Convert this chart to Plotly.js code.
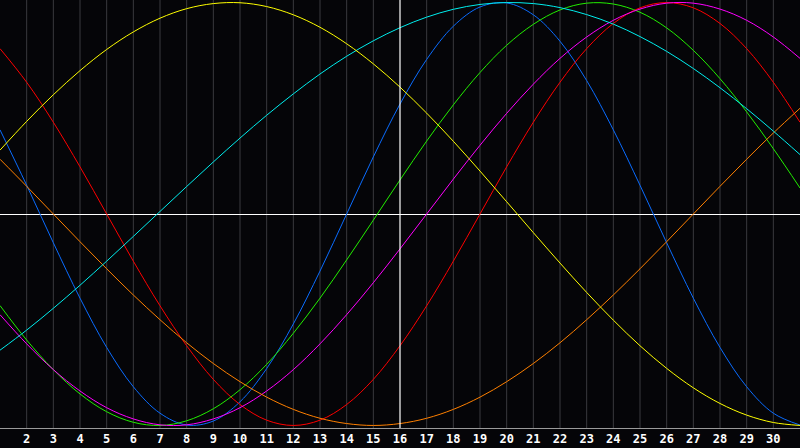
<!DOCTYPE html>
<html>
<head>
<meta charset="utf-8">
<script src="https://cdn.plot.ly/plotly-3.0.1.min.js"></script>
<style>
        html, body {margin: 0; padding: 0; background: #050508;}
        #myDiv {width: 800px; height: 448px;}
</style>
</head>
<body>
<div id="myDiv"></div>
<script>
var days = [1, 2, 3, 4, 5, 6, 7, 8, 9, 10, 11, 12, 13, 14, 15, 16,
        17, 18, 19, 20, 21, 22, 23, 24, 25, 26, 27, 28, 29, 30, 31];

var tickDays = [2, 3, 4, 5, 6, 7, 8, 9, 10, 11, 12, 13, 14, 15, 16,
        17, 18, 19, 20, 21, 22, 23, 24, 25, 26, 27, 28, 29, 30];

//values for each day, one array per curve
var physical = [0.398, 0.136, -0.136, -0.398, -0.631, -0.817, -0.942, -0.998, -0.979, -0.888,
        -0.731, -0.520, -0.270, 0.000, 0.270, 0.520, 0.731, 0.888, 0.979, 0.998,
        0.942, 0.817, 0.631, 0.398, 0.136, -0.136, -0.398, -0.631, -0.817, -0.942, -0.998];

var emotional = [0.782, 0.623, 0.434, 0.223, 0.000, -0.223, -0.434, -0.623, -0.782, -0.901,
        -0.975, -1.000, -0.975, -0.901, -0.782, -0.623, -0.434, -0.223, 0.000, 0.223,
        0.434, 0.623, 0.782, 0.901, 0.975, 1.000, 0.975, 0.901, 0.782, 0.623, 0.434];

var intellectual = [-0.433, -0.596, -0.736, -0.851, -0.935, -0.985, -1.000, -0.978, -0.921, -0.831,
        -0.711, -0.564, -0.398, -0.217, -0.029, 0.161, 0.345, 0.516, 0.669, 0.798,
        0.897, 0.965, 0.997, 0.993, 0.954, 0.880, 0.774, 0.640, 0.483, 0.309, 0.123];

var intuitive = [-0.476, -0.614, -0.736, -0.837, -0.916, -0.969, -0.997, -0.997, -0.969, -0.916,
        -0.837, -0.736, -0.614, -0.476, -0.325, -0.165, 0.000, 0.165, 0.325, 0.476,
        0.614, 0.736, 0.837, 0.916, 0.969, 0.997, 0.997, 0.969, 0.916, 0.837, 0.736];

var aesthetic = [0.302, 0.438, 0.564, 0.678, 0.778, 0.861, 0.926, 0.971, 0.995, 0.999,
        0.981, 0.942, 0.883, 0.805, 0.710, 0.600, 0.477, 0.344, 0.203, 0.058,
        -0.088, -0.232, -0.371, -0.502, -0.623, -0.730, -0.822, -0.896, -0.951, -0.986, -1.000];

var awareness = [0.259, 0.131, 0.000, -0.131, -0.259, -0.383, -0.500, -0.609, -0.707, -0.793,
        -0.866, -0.924, -0.966, -0.991, -1.000, -0.991, -0.966, -0.924, -0.866, -0.793,
        -0.707, -0.609, -0.500, -0.383, -0.259, -0.131, 0.000, 0.131, 0.259, 0.383, 0.500];

var spiritual = [-0.644, -0.549, -0.446, -0.337, -0.223, -0.106, 0.012, 0.130, 0.246, 0.359,
        0.467, 0.568, 0.662, 0.746, 0.819, 0.881, 0.931, 0.968, 0.991, 1.000,
        0.995, 0.976, 0.943, 0.898, 0.839, 0.769, 0.688, 0.597, 0.498, 0.392, 0.281];

var TODAY = 16;

function makeTrace(values, colour)
{
        return {
                x: days,
                y: values,
                mode: 'lines',
                type: 'scatter',
                line: {color: colour, width: 1, shape: 'spline', smoothing: 1},
                hoverinfo: 'skip'
        };
}

function printBiorhythm()
{
        //drawing order matters where the curves overlap at the top and bottom
        var data = [
                makeTrace(physical, '#0a6cff'),
                makeTrace(emotional, '#ff0000'),
                makeTrace(intellectual, '#22ee00'),
                makeTrace(intuitive, '#ff00ff'),
                makeTrace(awareness, '#ff8000'),
                makeTrace(spiritual, '#00eeee'),
                makeTrace(aesthetic, '#ffff00')
        ];

        var layout = {
                width: 800,
                height: 448,
                margin: {l: 0, r: 0, t: 0, b: 20},
                paper_bgcolor: '#050508',
                plot_bgcolor: '#050508',
                showlegend: false,
                xaxis: {
                        range: [1, 31],
                        tickmode: 'array',
                        tickvals: tickDays,
                        ticktext: tickDays.map(String),
                        ticks: '',
                        showgrid: false,
                        zeroline: false,
                        showline: true,
                        mirror: true,
                        linecolor: '#9a9a9a',
                        linewidth: 1,
                        tickfont: {family: 'DejaVu Sans Mono', size: 12, color: '#ffffff', weight: 'bold'}
                },
                yaxis: {
                        range: [-1.012, 1.012],
                        showticklabels: false,
                        ticks: '',
                        showgrid: false,
                        zeroline: true,
                        zerolinecolor: '#ffffff',
                        zerolinewidth: 1,
                        showline: true,
                        mirror: true,
                        linecolor: '#9a9a9a',
                        linewidth: 1
                },
                shapes: []
        };

        //one faint grid line for every day, and the white line on today
        for (var i = 0; i < tickDays.length; i++)
        {
                var isToday = tickDays[i] == TODAY;
                layout.shapes.push({
                        type: 'line',
                        xref: 'x', yref: 'paper',
                        x0: tickDays[i], x1: tickDays[i],
                        y0: 0, y1: 1,
                        layer: isToday ? 'above' : 'below',
                        line: {color: isToday ? '#ffffff' : '#3a3a3e', width: isToday ? 1.2 : 1}
                });
        }

        Plotly.newPlot('myDiv', data, layout, {displayModeBar: false, staticPlot: true});
}

printBiorhythm();
</script>
</body>
</html>
